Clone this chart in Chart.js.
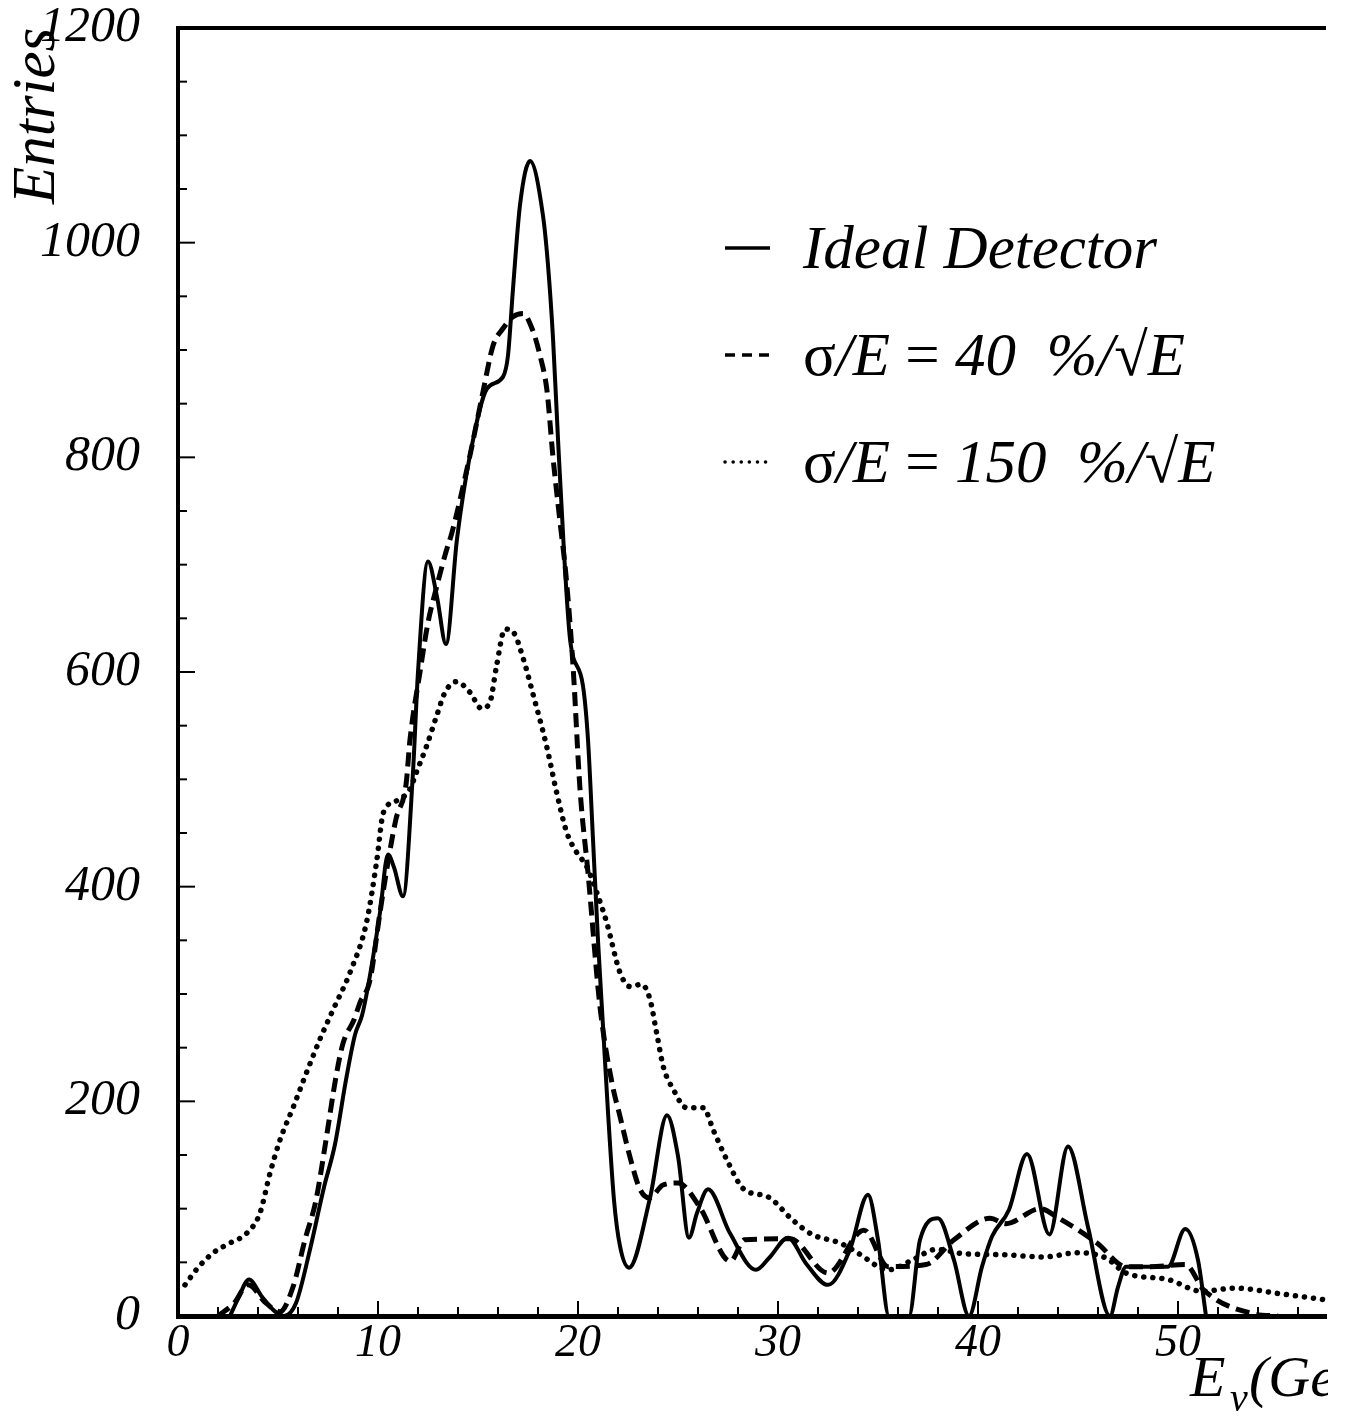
<!DOCTYPE html>
<html>
<head>
<meta charset="utf-8">
<script src="https://cdn.jsdelivr.net/npm/chart.js@4"></script>
<style>
  html, body { margin: 0; padding: 0; background: #fff; }
  canvas { display: block; }
</style>
</head>
<body>
<canvas id="chart" width="1348" height="1416"></canvas>
<script>
// E_nu (GeV) and entries
const idealE = [2.6, 3.0, 3.55, 4.2, 4.8, 5.3, 5.9, 6.6, 7.3, 7.85, 8.4, 8.85, 9.2, 9.5, 10.1, 10.5, 10.8, 11.25,
  11.75, 12.0, 12.5, 12.95, 13.4, 13.95, 14.6, 15.45, 16.25, 16.5, 16.75, 17.1, 17.6, 18.25, 18.5, 18.75, 19.0,
  19.3, 19.6, 20.25, 20.5, 20.75, 21.0, 21.25, 21.5, 21.8, 22.1, 22.55, 23.6, 24.45, 25.0, 25.55, 25.95, 26.5,
  27.6, 28.9, 29.6, 30.5, 31.4, 32.5, 33.6, 34.5, 35.0, 35.55, 36.55, 37.1, 38.0, 38.8, 39.55, 40.2, 40.7,
  41.55, 42.45, 43.57, 44.5, 45.5, 46.6, 47.0, 47.4, 49.5, 50.36, 51.0, 51.4];
const idealN = [0, 16, 34, 18, 5, 0, 12, 62, 120, 160, 220, 262, 280, 307, 376, 430, 418, 391,
  507, 600, 703, 670, 626, 724, 802, 864, 875, 895, 957, 1035, 1076, 1025, 979, 911, 817,
  712, 631, 587, 537, 444, 350, 270, 190, 108, 65, 45, 110, 187, 149, 73, 96, 118,
  77, 43, 55, 73, 49, 29, 62, 113, 71, 0, 0, 71, 91, 52, 0, 46, 74,
  99, 151, 76, 158, 83, 0, 27, 46, 46, 81, 52, 0];

const res40E = [2.0, 2.8, 3.5, 4.4, 5.1, 5.75, 6.35, 6.9, 7.4, 7.9, 8.25, 8.8, 9.1, 9.6, 10.1, 10.5, 10.9, 11.4,
  11.6, 12.1, 12.5, 12.9, 13.4, 13.7, 14.6, 15.25, 15.75, 16.25, 16.75, 17.25, 17.7, 18.1, 18.45, 18.75, 19.1,
  19.4, 19.75, 20.1, 20.5, 21.1, 21.7, 22.1, 22.6, 23.1, 23.57, 24.25, 25.0, 26.07, 27.62, 28.33, 30.6, 32.5,
  34.3, 35.5, 37.4, 38.8, 40.6, 41.4, 43.1, 44.05, 45.95, 47.4, 48.6, 50.36, 51.3, 53.8, 55.0];
const res40N = [0, 12, 29, 12, 4, 27, 71, 108, 164, 223, 254, 276, 292, 313, 376, 423, 463, 495,
  537, 600, 646, 677, 712, 730, 802, 861, 904, 920, 931, 934, 920, 895, 862, 800, 740,
  690, 606, 491, 413, 288, 217, 186, 148, 118, 110, 122, 124, 102, 51, 71, 72, 40,
  80, 46, 48, 71, 91, 86, 100, 91, 68, 46, 46, 48, 24, 2, 0];

const res150E = [0.35, 1.0, 1.77, 2.6, 3.43, 4.1, 4.6, 5.1, 5.77, 6.43, 7.1, 7.77, 8.6, 9.43, 9.93, 10.27, 10.93,
  11.6, 11.93, 12.43, 12.93, 13.35, 13.93, 14.6, 15.18, 15.6, 15.93, 16.35, 16.77, 17.27, 17.77, 18.43, 18.93,
  19.43, 19.93, 20.43, 20.93, 21.43, 22.1, 22.6, 23.18, 23.6, 23.93, 24.27, 24.77, 25.43, 26.27, 26.77, 27.43,
  28.3, 29.5, 30.7, 31.7, 33.1, 34.05, 35.5, 36.7, 37.9, 39.3, 41.4, 43.3, 45.0, 46.4, 47.4, 49.5, 51.2,
  52.85, 55.0, 57.4];
const res150N = [29, 45, 59, 68, 77, 96, 133, 164, 195, 227, 258, 286, 320, 367, 423, 469, 480,
  491, 507, 531, 559, 581, 591, 581, 566, 572, 606, 640, 637, 612, 578, 531, 488,
  451, 432, 419, 395, 367, 320, 307, 309, 295, 264, 232, 211, 194, 194, 173, 146,
  118, 111, 90, 76, 68, 58, 43, 52, 62, 58, 57, 55, 59, 54, 40, 34, 23,
  26, 21, 15];

// labelled ticks (minor ticks every 2 GeV / 50 entries)
const xTickLabels = [0, 10, 20, 30, 40, 50];
const yTickLabels = [0, 200, 400, 600, 800, 1000, 1200];

const SERIF = "'Liberation Serif', 'Times New Roman', serif";
const dashed = [14, 7];
const dotted = [0.1, 9];

const pts = (xs, ys) => xs.map((x, i) => ({ x, y: ys[i] }));

// legend rows: text pieces as [text, style]
const legendRows = [
  { dash: [], cap: 'butt', parts: [['Ideal Detector', 'italic']] },
  { dash: [10, 7], cap: 'butt', parts: [['σ', 'normal'], ['/E ', 'italic'], ['= ', 'normal'], ['40  %/', 'italic'], ['√', 'normal'], ['E', 'italic']] },
  { dash: [0.1, 8], cap: 'round', parts: [['σ', 'normal'], ['/E ', 'italic'], ['= ', 'normal'], ['150  %/', 'italic'], ['√', 'normal'], ['E', 'italic']] }
];

const decor = {
  id: 'decor',
  beforeDraw(chart) {
    const ctx = chart.ctx;
    ctx.save();
    ctx.fillStyle = '#fff';
    ctx.fillRect(0, 0, chart.width, chart.height);
    ctx.restore();
  },
  afterDraw(chart) {
    const { ctx, chartArea: a, scales: { x, y } } = chart;
    ctx.save();
    ctx.strokeStyle = '#000';
    ctx.fillStyle = '#000';

    // top frame line
    ctx.lineWidth = 4;
    ctx.beginPath();
    ctx.moveTo(a.left - 2, a.top);
    ctx.lineTo(a.right, a.top);
    ctx.stroke();

    // inward tick marks
    ctx.lineWidth = 2;
    x.ticks.forEach(t => {
      const px = x.getPixelForValue(t.value);
      const len = t.value % 10 === 0 ? 15 : 9;
      ctx.beginPath();
      ctx.moveTo(px, a.bottom);
      ctx.lineTo(px, a.bottom - len);
      ctx.stroke();
    });
    y.ticks.forEach(t => {
      const py = y.getPixelForValue(t.value);
      const len = t.value % 200 === 0 ? 17 : 9;
      ctx.beginPath();
      ctx.moveTo(a.left, py);
      ctx.lineTo(a.left + len, py);
      ctx.stroke();
    });

    // y title, rotated
    ctx.save();
    ctx.translate(54, 204);
    ctx.rotate(-Math.PI / 2);
    ctx.font = 'italic 61px ' + SERIF;
    ctx.textBaseline = 'alphabetic';
    ctx.fillText('Entries', 0, 0);
    ctx.restore();

    // x title, cut at the right edge like the original
    ctx.save();
    ctx.beginPath();
    ctx.rect(0, 0, 1328, chart.height);
    ctx.clip();
    ctx.textBaseline = 'alphabetic';
    ctx.font = 'italic 58px ' + SERIF;
    ctx.fillText('E', 1190, 1396);
    ctx.font = 'italic 40px ' + SERIF;
    ctx.fillText('ν', 1230, 1411);
    ctx.font = 'italic 58px ' + SERIF;
    ctx.fillText('(GeV)', 1249, 1396);
    ctx.restore();

    // legend
    const rowY = [248, 355, 462];
    legendRows.forEach((row, i) => {
      const yy = rowY[i];
      ctx.save();
      ctx.lineWidth = 3.5;
      ctx.setLineDash(row.dash);
      ctx.lineCap = row.cap;
      ctx.beginPath();
      ctx.moveTo(725, yy);
      ctx.lineTo(770, yy);
      ctx.stroke();
      ctx.restore();
      let tx = 803;
      row.parts.forEach(([txt, style]) => {
        ctx.font = style + ' 61px ' + SERIF;
        ctx.fillText(txt, tx, yy + 20);
        tx += ctx.measureText(txt).width;
      });
    });
    ctx.restore();
  }
};

new Chart(document.getElementById('chart'), {
  type: 'line',
  data: {
    datasets: [
      { label: 'Ideal Detector', data: pts(idealE, idealN), borderColor: '#000', borderWidth: 4 },
      { label: 'σ/E = 40 %/√E', data: pts(res40E, res40N), borderColor: '#000', borderWidth: 5, borderDash: dashed },
      { label: 'σ/E = 150 %/√E', data: pts(res150E, res150N), borderColor: '#000', borderWidth: 5.5,
        borderDash: dotted, borderCapStyle: 'round' }
    ]
  },
  options: {
    responsive: false,
    animation: false,
    devicePixelRatio: 1,
    layout: { padding: { top: 28, right: 22, left: 0, bottom: 0 } },
    elements: {
      point: { radius: 0 },
      line: { cubicInterpolationMode: 'monotone', fill: false }
    },
    plugins: { legend: { display: false }, tooltip: { enabled: false } },
    scales: {
      x: {
        type: 'linear',
        min: 0,
        max: 57.4,
        afterFit: s => { s.height = 100; s.paddingLeft = 0; s.paddingRight = 0; },
        grid: { display: false, drawTicks: false },
        border: { display: true, color: '#000', width: 5 },
        ticks: {
          stepSize: 2,
          includeBounds: false,
          autoSkip: false,
          maxRotation: 0,
          padding: 0,
          color: '#000',
          font: { family: SERIF, style: 'italic', size: 46 },
          callback: v => xTickLabels.includes(v) ? String(v) : ''
        }
      },
      y: {
        min: 0,
        max: 1200,
        afterFit: s => { s.width = 178; s.paddingTop = 0; s.paddingBottom = 0; },
        grid: { display: false, drawTicks: false },
        border: { display: true, color: '#000', width: 4 },
        ticks: {
          stepSize: 50,
          autoSkip: false,
          padding: 38,
          color: '#000',
          font: { family: SERIF, style: 'italic', size: 50 },
          callback: v => yTickLabels.includes(v) ? String(v) : ''
        }
      }
    }
  },
  plugins: [decor]
});
</script>
</body>
</html>
